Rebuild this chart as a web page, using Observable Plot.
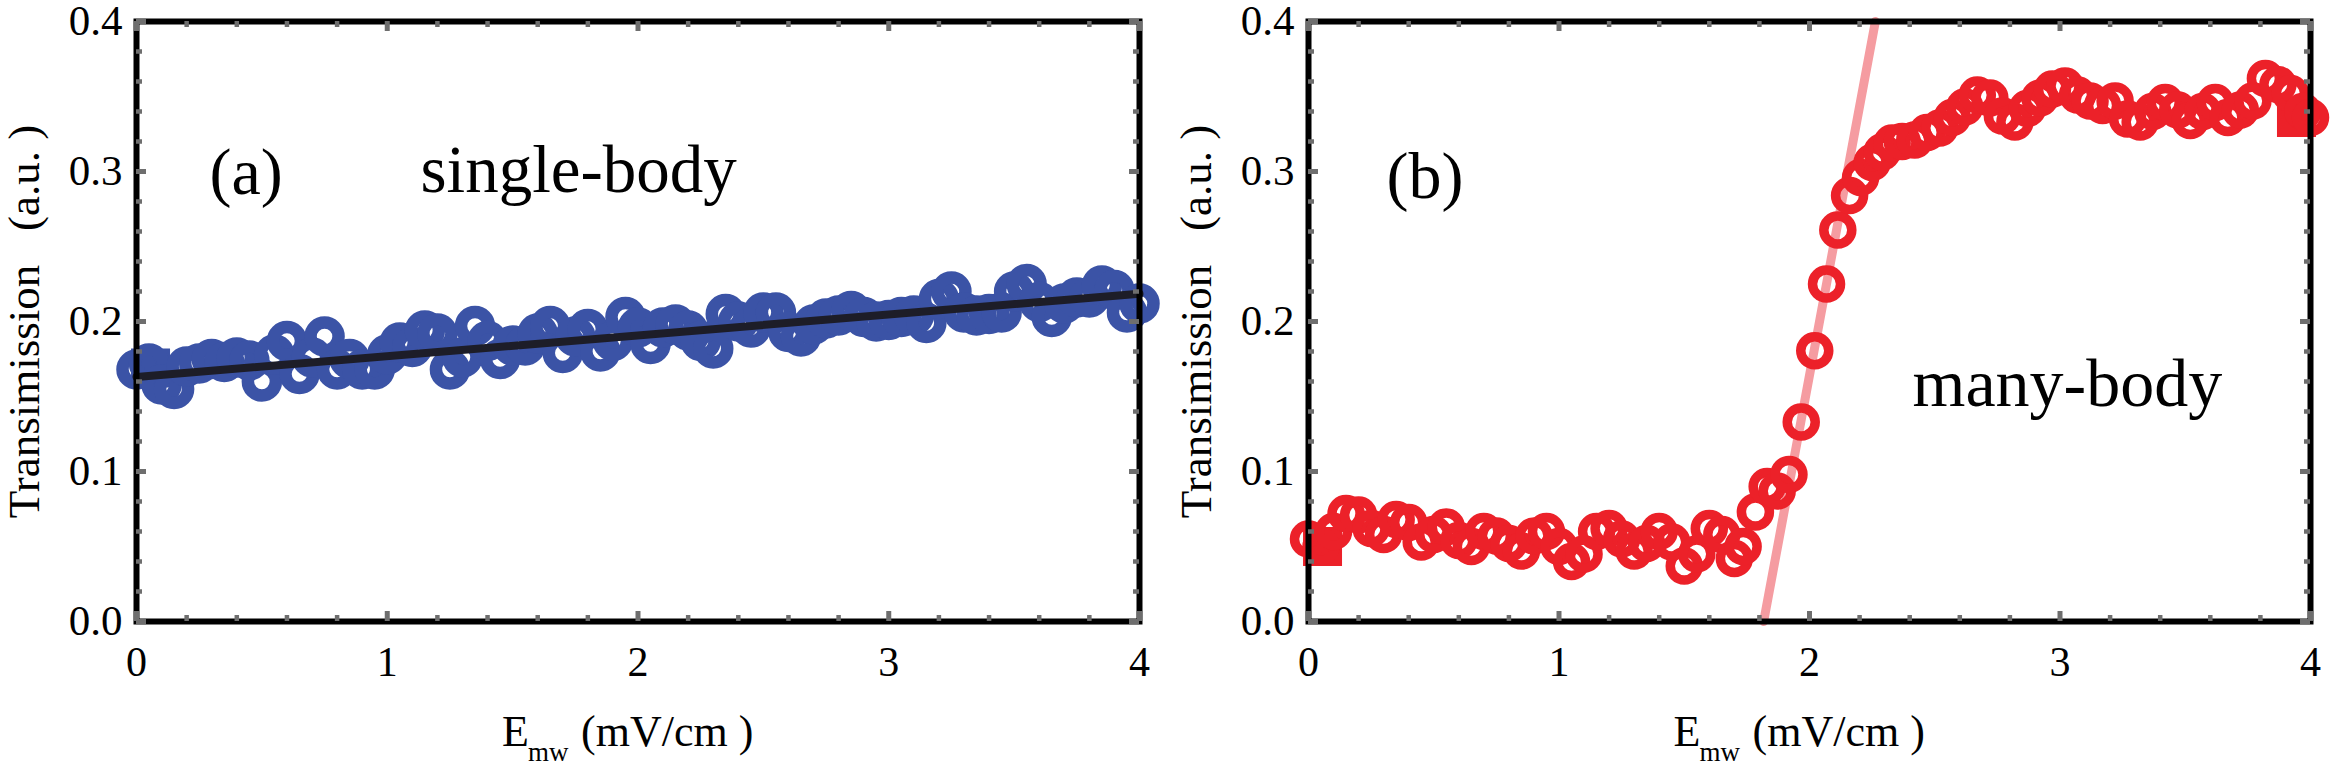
<!DOCTYPE html>
<html><head><meta charset="utf-8">
<script src="https://cdn.jsdelivr.net/npm/d3@7"></script>
<script src="https://cdn.jsdelivr.net/npm/@observablehq/plot@0.6"></script>
<style>
html,body{margin:0;padding:0;background:#fff;overflow:hidden;}
#wrap{display:flex;width:2334px;height:774px;}
#wrap svg{display:block;}
#wrap svg text{font-family:"Liberation Serif","Times New Roman",serif;}
</style></head><body><div id="wrap"></div>
<script>
// ---- tick values ----
const xMajor = [0, 1, 2, 3, 4];
const xMinor = [0.2, 0.4, 0.6, 0.8, 1.2, 1.4, 1.6, 1.8, 2.2, 2.4, 2.6, 2.8, 3.2, 3.4, 3.6, 3.8];
const yMajor = [0, 0.1, 0.2, 0.3, 0.4];
const yMinor = [0.02, 0.04, 0.06, 0.08, 0.12, 0.14, 0.16, 0.18, 0.22, 0.24, 0.26, 0.28, 0.32, 0.34, 0.36, 0.38];

// ---- panel (a): single-body ----
const blueX = [0,0.05,0.1,0.15,0.2,0.25,0.3,0.35,0.4,0.45,0.5,0.55,0.6,0.65,0.7,0.75,0.8,0.85,0.9,0.95,
  1,1.05,1.1,1.15,1.2,1.25,1.3,1.35,1.4,1.45,1.5,1.55,1.6,1.65,1.7,1.75,1.8,1.85,1.9,1.95,
  2,2.05,2.1,2.15,2.2,2.25,2.3,2.35,2.4,2.45,2.5,2.55,2.6,2.65,2.7,2.75,2.8,2.85,2.9,2.95,
  3,3.05,3.1,3.15,3.2,3.25,3.3,3.35,3.4,3.45,3.5,3.55,3.6,3.65,3.7,3.75,3.8,3.85,3.9,3.95,4];
const blueY = [0.168,0.172,0.158,0.155,0.170,0.172,0.175,0.173,0.176,0.174,0.160,0.178,0.187,0.165,0.176,0.190,0.168,0.175,0.168,0.168,
  0.178,0.186,0.183,0.194,0.192,0.168,0.176,0.197,0.187,0.175,0.184,0.184,0.192,0.197,0.179,0.190,0.195,0.180,0.187,0.203,
  0.196,0.185,0.196,0.198,0.194,0.187,0.182,0.205,0.200,0.196,0.206,0.206,0.193,0.190,0.198,0.202,0.204,0.207,0.203,0.200,
  0.201,0.203,0.204,0.199,0.215,0.220,0.206,0.204,0.205,0.206,0.220,0.225,0.213,0.203,0.212,0.216,0.216,0.224,0.221,0.206,0.212];
const fitAX = [0, 4];
const fitAY = [0.163, 0.2185];
const edgeAX = [0.056];
const edgeAY = [0.169];

// ---- panel (b): many-body ----
const redX = [0,0.05,0.1,0.15,0.2,0.25,0.3,0.35,0.4,0.45,0.5,0.55,0.6,0.65,0.7,0.75,0.8,0.85,0.9,0.95,
  1,1.05,1.1,1.15,1.2,1.25,1.3,1.35,1.4,1.45,1.5,1.55,1.6,1.65,1.7,
  1.735,1.784,1.831,1.871,1.918,1.967,2.021,2.068,2.113,2.16,2.204,2.25,2.29,2.33,2.37,
  2.42,2.47,2.52,2.57,2.62,2.67,2.72,2.77,2.82,2.87,2.92,2.97,3.02,3.07,3.12,3.17,3.22,3.27,3.32,3.37,
  3.42,3.47,3.52,3.57,3.62,3.67,3.72,3.77,3.82,3.87,3.92,3.97,4];
const redY = [0.055,0.050,0.060,0.072,0.071,0.062,0.058,0.068,0.066,0.053,0.058,0.063,0.054,0.050,0.060,0.057,0.052,0.047,0.057,0.060,
  0.050,0.040,0.045,0.060,0.062,0.055,0.047,0.052,0.060,0.053,0.037,0.045,0.062,0.058,0.042,
  0.050,0.073,0.090,0.087,0.098,0.133,0.1805,0.225,0.261,0.284,0.296,0.306,0.313,0.319,0.320,
  0.321,0.326,0.329,0.336,0.343,0.351,0.349,0.337,0.333,0.342,0.349,0.355,0.357,0.351,0.347,0.344,0.347,0.335,0.333,0.340,
  0.346,0.341,0.334,0.340,0.346,0.336,0.341,0.347,0.362,0.358,0.352,0.340,0.336];
const fitBX = [1.817, 2.263];
const fitBY = [0, 0.4];
const edgeBX = [0.056, 3.944];
const edgeBY = [0.050, 0.336];

const BLUE = "#3b53a6", RED = "#ec2129", PINK = "#f59ca1", DARK = "#1d1d28", GRAY = "#6e6e6e";
const FONT = "Liberation Serif, Times New Roman, serif";

function zip(xs, ys) { return xs.map((x, i) => ({x, y: ys[i]})); }

function frameMarks(W, H) {
  return [
    Plot.frame({stroke: "#000", strokeWidth: 6}),
    Plot.tickX(xMinor, {x: d => d, insetTop: H - 6, stroke: GRAY, strokeWidth: 4.5}),
    Plot.tickX(xMinor, {x: d => d, insetBottom: H - 6, stroke: GRAY, strokeWidth: 4.5}),
    Plot.tickX(xMajor, {x: d => d, insetTop: H - 10, stroke: GRAY, strokeWidth: 5}),
    Plot.tickX(xMajor, {x: d => d, insetBottom: H - 10, stroke: GRAY, strokeWidth: 5}),
    Plot.tickY(yMinor, {y: d => d, insetRight: W - 6, stroke: GRAY, strokeWidth: 4.5}),
    Plot.tickY(yMinor, {y: d => d, insetLeft: W - 6, stroke: GRAY, strokeWidth: 4.5}),
    Plot.tickY(yMajor, {y: d => d, insetRight: W - 10, stroke: GRAY, strokeWidth: 5}),
    Plot.tickY(yMajor, {y: d => d, insetLeft: W - 10, stroke: GRAY, strokeWidth: 5}),
    Plot.axisX({ticks: xMajor, tickSize: 0, tickPadding: 25, fontSize: 42, fontFamily: FONT, tickFormat: d => String(d), label: null, fill: "#000"}),
    Plot.axisY({ticks: yMajor, tickSize: 0, tickPadding: 14, fontSize: 43, fontFamily: FONT, tickFormat: d => d.toFixed(1), label: null, fill: "#000"}),
    Plot.text(["Transimission\u00a0\u00a0\u00a0(a.u.\u00a0)"], {frameAnchor: "left", text: d => d, rotate: -90, dx: -98, textAnchor: "middle", lineAnchor: "bottom", fontSize: 45, fontFamily: FONT, fill: "#000"}),
    Plot.text(["E"], {frameAnchor: "bottom", text: d => d, dx: -136, dy: 124, textAnchor: "start", lineAnchor: "bottom", fontSize: 44, fontFamily: FONT, fill: "#000"}),
    Plot.text(["mw"], {frameAnchor: "bottom", text: d => d, dx: -110, dy: 139, textAnchor: "start", lineAnchor: "bottom", fontSize: 27, fontFamily: FONT, fill: "#000"}),
    Plot.text(["(mV/cm\u00a0)"], {frameAnchor: "bottom", text: d => d, dx: -57, dy: 124, textAnchor: "start", lineAnchor: "bottom", fontSize: 44, fontFamily: FONT, fill: "#000"})
  ];
}

function panel({width, ml, mr, marks}) {
  const W = width - ml - mr, H = 600;
  return Plot.plot({
    width, height: 774,
    marginLeft: ml, marginRight: mr, marginTop: 21, marginBottom: 153,
    x: {domain: [0, 4]},
    y: {domain: [0, 0.4]},
    style: {fontFamily: FONT, background: "#fff", color: "#000", overflow: "visible"},
    marks: [...marks, ...frameMarks(W, H)]
  });
}

const chartA = panel({
  width: 1167, ml: 136, mr: 28,
  marks: [
    Plot.dot(zip(edgeAX, edgeAY), {x: "x", y: "y", symbol: "square", r: 22, fill: BLUE, stroke: "none"}),
    Plot.dot(zip(blueX, blueY), {x: "x", y: "y", r: 14, stroke: BLUE, strokeWidth: 12.5, fill: "none"}),
    Plot.line(zip(fitAX, fitAY), {x: "x", y: "y", stroke: DARK, strokeWidth: 8}),
    Plot.text(["(a)"], {frameAnchor: "top-left", text: d => d, dx: 73, dy: 172, textAnchor: "start", lineAnchor: "bottom", fontSize: 66, fontFamily: FONT, fill: "#000"}),
    Plot.text(["single-body"], {frameAnchor: "top-left", text: d => d, dx: 284, dy: 170, textAnchor: "start", lineAnchor: "bottom", fontSize: 67, fontFamily: FONT, fill: "#000"})
  ]
});

const chartB = panel({
  width: 1167, ml: 141, mr: 24,
  marks: [
    Plot.line(zip(fitBX, fitBY), {x: "x", y: "y", stroke: PINK, strokeWidth: 9}),
    Plot.dot(zip(edgeBX, edgeBY), {x: "x", y: "y", symbol: "square", r: 22, fill: RED, stroke: "none"}),
    Plot.dot(zip(redX, redY), {x: "x", y: "y", r: 14, stroke: RED, strokeWidth: 9.5, fill: "none"}),
    Plot.text(["(b)"], {frameAnchor: "top-left", text: d => d, dx: 78, dy: 176, textAnchor: "start", lineAnchor: "bottom", fontSize: 66, fontFamily: FONT, fill: "#000"}),
    Plot.text(["many-body"], {frameAnchor: "top-left", text: d => d, dx: 604, dy: 384, textAnchor: "start", lineAnchor: "bottom", fontSize: 68, fontFamily: FONT, fill: "#000"})
  ]
});

document.getElementById("wrap").append(chartA, chartB);
</script>
</body></html>
